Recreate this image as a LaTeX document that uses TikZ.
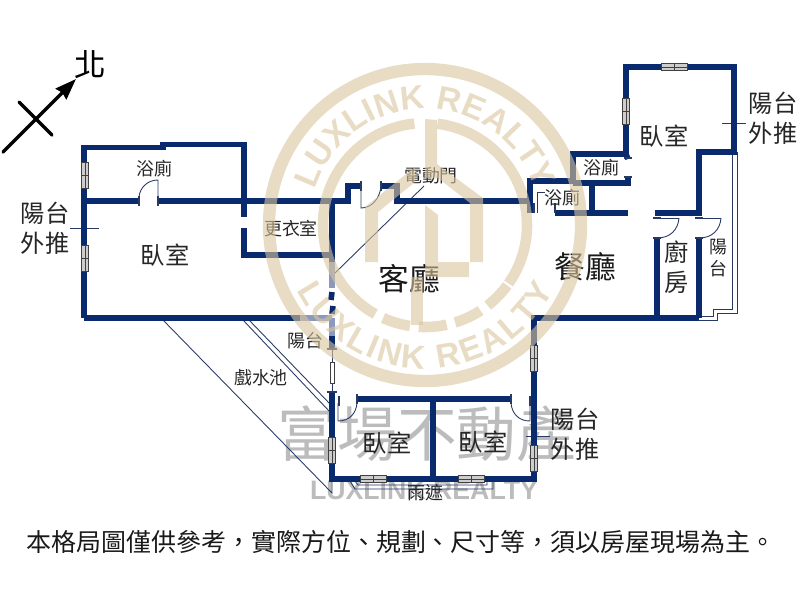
\documentclass[tikz,border=0pt]{standalone}
\usepackage{fontspec}
\setmainfont{Noto Sans CJK TC}
\newfontfamily\wmfont{Liberation Sans}
\usepackage{tikz}
\usetikzlibrary{arrows.meta,decorations.text}
\definecolor{wallblue}{RGB}{10,42,110}
\definecolor{walllight}{RGB}{140,152,188}
\definecolor{thinblue}{RGB}{40,58,100}
\definecolor{wmtan}{RGB}{217,197,157}
\definecolor{wmgrey}{RGB}{188,188,188}
\definecolor{wingrey}{RGB}{205,205,205}
\tikzset{
  wall/.style={draw=wallblue,line width=3.2pt,miter limit=10},
  wallpale/.style={draw=walllight,line width=3.2pt},
  thinline/.style={draw=thinblue,line width=.5pt},
  jamb/.style={draw=thinblue,line width=1.3pt},
  win/.style={draw=black!75,fill=wingrey,line width=.4pt},
  lblS/.style={inner sep=0pt,text=black!85,font=\fontsize{10.2}{12.5}\selectfont},
  lblM/.style={inner sep=0pt,text=black!85,font=\fontsize{13.8}{17}\selectfont,align=center},
  lblL/.style={inner sep=0pt,text=black!90,font=\fontsize{17.5}{20}\selectfont},
}
\begin{document}
\begin{tikzpicture}[x=0.02cm,y=-0.02cm]
  \useasboundingbox (0,0) rectangle (800,600);
  % grey marks under the plan
  \node (wmname) at (427,434) [inner sep=0pt,text=wmgrey,font=\fontsize{34}{36}\selectfont] {富場不動產};
  \node (wmlatin) at (424,490) [inner sep=0pt,text=wmgrey,font=\wmfont\bfseries\fontsize{15.2}{18}\selectfont] {LUXLINK REALTY};
  % north arrow
  \draw[line width=2pt,line cap=round,-{Stealth[length=12pt,width=8.5pt,inset=1pt]}] (3,152) -- (76,79);
  \draw[line width=2pt,line cap=round] (19,102) -- (52,135);
  \node (north) at (90,65) [inner sep=0pt,font=\fontsize{18}{20}\selectfont] {北};
  % thin lines: pool, balcony, rain shade
  \draw[thinline] (163,320) -- (332,493) -- (332,481);
  \draw[thinline] (243,320) -- (330,412);
  \draw[thinline] (249,320) -- (331,405);
  \draw[thinline] (732,152) -- (732,309) -- (713,309) -- (713,316) -- (699,316);
  \draw[thinline] (737,152) -- (737,313) -- (717,313) -- (717,320) -- (699,320);
  \draw[thinline] (350,481) -- (355,489) -- (493,489) -- (493,481);
  \draw[thinline] (355,481) -- (358,485) -- (487,485) -- (487,481);
  \draw[thinline] (332,349) -- (332,392);
  \draw[thinline] (424,186) -- (335,273);
  \draw[thinline] (70,228) -- (99,228);
  \draw[thinline] (722,123) -- (746,123);
  \draw[thinline] (526,436) -- (550,436);
  % walls
  \draw[wall] (84,318) -- (84,147.5) -- (163,147.5) -- (163,144.5) -- (244,144.5) -- (244,217);
  \draw[wall] (84,201) -- (139,201);
  \draw[wall] (158,201) -- (348,201) -- (348,186) -- (361,186);
  \draw[wall] (381,186) -- (397,186) -- (397,201) -- (530,201);
  \draw[wall] (530,213) -- (530,181) -- (573,181);
  \draw[wall] (573,183) -- (628,183) -- (628,177);
  \draw[wall] (573,183) -- (573,154) -- (626,154) -- (626,67) -- (734,67) -- (734,152) -- (699,152) -- (699,213) -- (655,213);
  \draw[wall] (626,154) -- (628,159);
  \draw[wall] (555,213) -- (628,213);
  \draw[wall] (592,183) -- (592,213);
  \draw[wall] (699,238) -- (699,318);
  \draw[wall] (657,238) -- (657,318);
  \draw[wall] (534,482) -- (534,318) -- (699,318);
  \draw[wall] (332,201) -- (332,262);
  \draw[wall] (244,228) -- (244,255) -- (332,255);
  \draw[wall] (84,318) -- (300,318);
  \draw[wallpale] (300,318) -- (332,318);
  \draw[wallpale] (332,262) -- (332,288);
  \draw[wallpale] (332,318) -- (332,336);
  \draw[wall] (332,292) -- (331,300);
  \draw[wall] (333,306) -- (332,314);
  \draw[wall] (332,336) -- (332,349);
  \draw[wall] (332,392) -- (332,479) -- (534,479);
  \draw[wall] (357,399) -- (511,399);
  \draw[wall] (433,399) -- (433,479);
  % ticks and door jambs
  \draw[jamb,line width=.8pt] (327,349) -- (337,349);
  \draw[jamb,line width=.8pt] (327,392) -- (337,392);
  \foreach \x/\y in {139/201,158/201,361/186,381/186,534/208,555/208,357/399,511/399,339/401,530/401}
    \draw[jamb] (\x,\y-5) -- (\x,\y+5);
  \foreach \x/\y in {628/158,628/177,657/218,657/238,699/218,699/238}
    \draw[jamb] (\x-4,\y) -- (\x+4,\y);
  % door leaves
  \draw[thinline] (139,197) .. controls (140,187) and (148,180) .. (158,180) -- (158,197);
  \draw[thinline] (381,186) .. controls (380,198) and (372,208) .. (361,208) -- (361,186);
  \draw[thinline] (537,213) -- (537,192) -- (545,192);
  \draw[thinline] (679,218) .. controls (678,230) and (670,238) .. (657,238);
  \draw[thinline] (657,218) -- (679,218);
  \draw[thinline] (721,218) .. controls (720,230) and (712,238) .. (699,238);
  \draw[thinline] (699,218) -- (721,218);
  \draw[thinline] (357,403) .. controls (356,414) and (349,421) .. (338,421) -- (338,403);
  \draw[thinline] (511,403) .. controls (512,414) and (519,421) .. (530,421) -- (530,403);
  % windows
  \foreach \x/\y in {85/175,85/258,626/111,534/358,534/458,332/450}{
    \draw[win] (\x-3.5,\y-13) rectangle (\x+3.5,\y+13);
    \draw[line width=.4pt,black!75] (\x,\y-13) -- (\x,\y+13) (\x-3.5,\y) -- (\x+3.5,\y);
  }
  \foreach \x/\y in {674/67,373/479,471/479}{
    \draw[win] (\x-13,\y-3.5) rectangle (\x+13,\y+3.5);
    \draw[line width=.4pt,black!75] (\x-13,\y) -- (\x+13,\y) (\x,\y-3.5) -- (\x,\y+3.5);
  }
  \draw[win,fill=white] (330,362) rectangle (334,383);
  % room labels
  \node (bathW) at (154,169) [lblS] {浴廁};
  \node (closet) at (291,229) [lblS] {更衣室};
  \node (bedW) at (165,255) [lblM] {臥室};
  \node (balcW) at (45,228) [lblM] {陽台\\外推};
  \node (doorLbl) at (431,176) [lblS] {電動門};
  \node (living) at (409,279) [lblL] {客廳};
  \node (dining) at (585,267) [lblL] {餐廳};
  \node (bathS) at (562,198) [lblS] {浴廁};
  \node (bathN) at (601,168) [lblS] {浴廁};
  \node (bedN) at (664,136) [lblM] {臥室};
  \node (balcE) at (773,118) [lblM] {陽台\\外推};
  \node (kitchen) at (677,267) [lblM] {廚\\房};
  \node (balcK) at (718,258) [lblS,align=center] {陽\\台};
  \node (balcM) at (305,341) [lblS] {陽台};
  \node (pool) at (261,378) [lblS] {戲水池};
  \node (bedA) at (387,443) [lblM] {臥室};
  \node (bedB) at (483,442) [lblM] {臥室};
  \node (balcS) at (575,434) [lblM] {陽台\\外推};
  \node (shade) at (425,493) [lblS] {雨遮};
  \node (note) at (401,542) [inner sep=0pt,text=black!90,font=\fontsize{14.2}{16}\selectfont] {本格局圖僅供參考，實際方位、規劃、尺寸等，須以房屋現場為主。};
  % tan mark over the plan
  \begin{scope}[opacity=.6]
    \fill[wmtan] (365,207) -- (415,167) -- (415,182) -- (378,212) -- (378,262) -- (365,262) -- cycle;
    \fill[wmtan] (425,205) -- (438,215) -- (438,262) -- (470,262) -- (470,203) -- (438,178) -- (425,178) -- (425,119) -- (437,120) -- (437,164) -- (483,198) -- (483,262) -- (469,262) -- (469,277) -- (425,277) -- cycle;
    \fill[wmtan] (411,277) rectangle (423,325);
    \begin{scope}[shift={(425,225)},x=0.02cm,y=0.02cm]
      \draw[wmtan,line width=7pt] (0,0) circle (156);
      \draw[wmtan,line width=6pt] (96:102) arc (96:225:102);
      \draw[wmtan,line width=6pt] (-35:102) arc (-35:83:102);
      \draw[wmtan,line width=6pt,dash pattern=on 16pt off 5pt] (225:102) arc (225:325:102);
      \path[decorate,decoration={text along path,text align={fit to path},
        text={|\wmfont\bfseries\fontsize{19}{19}\selectfont\color{wmtan}|LUXLINK REALTY}}]
        (162:116) arc (162:18:116);
      \path[decorate,decoration={text along path,text align={fit to path},
        text={|\wmfont\bfseries\fontsize{19}{19}\selectfont\color{wmtan}|LUXLINK REALTY}}]
        (207:144) arc (207:333:144);
    \end{scope}
  \end{scope}
\end{tikzpicture}
\end{document}
